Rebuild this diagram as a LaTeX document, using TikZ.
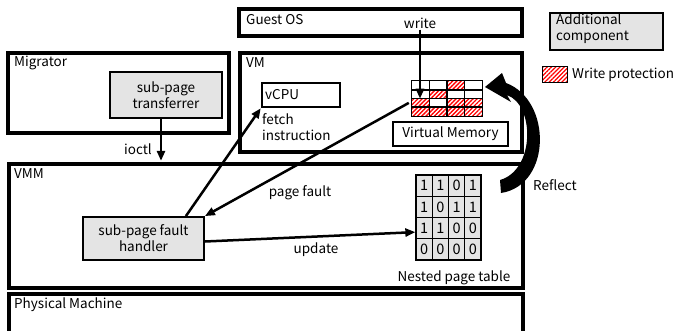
\documentclass[tikz,border=0pt]{standalone}
\usepackage{fontspec}
\setmainfont{Noto Sans CJK JP}
\usetikzlibrary{arrows.meta,patterns.meta}
\definecolor{compgray}{RGB}{228,228,228}
\begin{document}
\begin{tikzpicture}[x=1pt,y=-1pt,
  font=\fontsize{13.5}{16}\selectfont,
  bigbox/.style={draw, rectangle, line width=3.3pt, inner sep=0},
  inbox/.style={draw, rectangle, line width=2.5pt, inner sep=0},
  comp/.style={draw, rectangle, line width=1.8pt, fill=compgray, inner sep=0, align=center},
  lbl/.style={inner sep=1pt},
  vcell/.style={rectangle, inner sep=0, minimum width=17.5pt, minimum height=8.75pt},
  ncell/.style={draw, rectangle, line width=1.3pt, fill=compgray, inner sep=0,
                minimum width=16.25pt, minimum height=21.25pt},
  hatch/.style={pattern={Lines[angle=45,distance=3pt,line width=1.3pt]}, pattern color=red},
  arr/.style={line width=2.5pt, -{Triangle[length=10pt,width=8pt]}},
]
\clip (0,0) rectangle (692,330);

% layers of the system
\node[bigbox, minimum width=283pt, minimum height=27pt] (guest) at (380.5,22.5) {};
\node[lbl, anchor=west] at (245,20) {Guest OS};
\node[bigbox, minimum width=221pt, minimum height=80pt] (migr) at (118.5,93) {};
\node[lbl, anchor=west] at (13,63) {Migrator};
\node[bigbox, minimum width=282pt, minimum height=99pt] (vm) at (381,102.5) {};
\node[lbl, anchor=west] at (245,63) {VM};
\node[bigbox, minimum width=514pt, minimum height=124pt] (vmm) at (266,226) {};
\node[lbl, anchor=west] at (13,174) {VMM};
\node[bigbox, minimum width=514pt, minimum height=46pt] (phys) at (266,317) {};
\node[lbl, anchor=west] at (13,305) {Physical Machine};

% components
\node[comp, minimum width=112pt, minimum height=46pt] (tr) at (166,95) {sub-page\\transferrer};
\node[comp, minimum width=121pt, minimum height=43pt] (hd) at (143.5,238.5) {sub-page fault\\handler};
\node[inbox, minimum width=78pt, minimum height=24pt] (vcpu) at (301,95) {};
\node[lbl, anchor=west] at (264,95) {vCPU};
\node[inbox, minimum width=115pt, minimum height=24pt] (vmem) at (450.5,134) {Virtual Memory};
\node[lbl, anchor=north west, align=left, inner sep=0] at (262,113) {fetch\\instruction};

% legend
\node[comp, minimum width=113pt, minimum height=37pt] (leg) at (606.5,31.5) {};
\node[lbl, anchor=north west, align=left, inner sep=0] at (556,14) {Additional\\component};
\node[rectangle, inner sep=0, minimum width=24pt, minimum height=15pt, hatch] (sw) at (555,74.5) {};
\draw[line width=1pt] (sw.south west) rectangle (sw.north east);
\node[lbl, anchor=west] at (571,74.5) {Write protection};

% virtual memory pages
\foreach \r in {0,...,3}
  \foreach \c in {0,...,3}
    \node[vcell] (m-\r-\c) at ({420.75+17.5*\c},{85.375+8.75*\r}) {};
\foreach \r/\c in {0/2,1/1,2/0,2/2,2/3,3/0,3/1,3/2,3/3}
  \fill[hatch] (m-\r-\c.south west) rectangle (m-\r-\c.north east);
\foreach \r in {0,...,3}
  \foreach \c in {0,...,3}
    \draw[line width=1.3pt] (m-\r-\c.south west) rectangle (m-\r-\c.north east);

% nested page table
\foreach \row [count=\r from 0] in {{1,1,0,1},{1,0,1,1},{1,1,0,0},{0,0,0,0}}
  \foreach \v [count=\c from 0] in \row
    \node[ncell] (n-\r-\c) at ({424.125+16.25*\c},{185.625+21.25*\r}) {\fontsize{14.5}{14.5}\selectfont\v};
\node[lbl] at (454,278) {Nested page table};

% connectors
\node[lbl] (write) at (420,23) {write};
\draw[arr] (write.south) -- (write.south |- m-1-0.south);
\draw[arr] ([xshift=-5pt]tr.south) -- ([xshift=-5pt,yshift=1.5pt]tr.south |- vmm.north);
\node[lbl] at (138,149) {ioctl};
\draw[arr] ([xshift=-19pt]hd.north east) -- (vcpu.south west);
\draw[arr] ([xshift=-3pt]m-2-0.west) -- (hd.north east);
\node[lbl] at (300,193) {page fault};
\draw[arr] ([yshift=-3pt]hd.east) -- ([yshift=-4pt]n-2-0.west);
\node[lbl] at (316,250) {update};

% reflect arrow, tapering towards its head
\fill (500,180) .. controls (535,170) and (535,105) .. (507,95)
  -- (511,102) -- (485,87) -- (502,73) -- (506,83)
  .. controls (552,100) and (552,185) .. (501,193) -- cycle;
\node[lbl, anchor=west] at (532,185) {Reflect};
\end{tikzpicture}
\end{document}
